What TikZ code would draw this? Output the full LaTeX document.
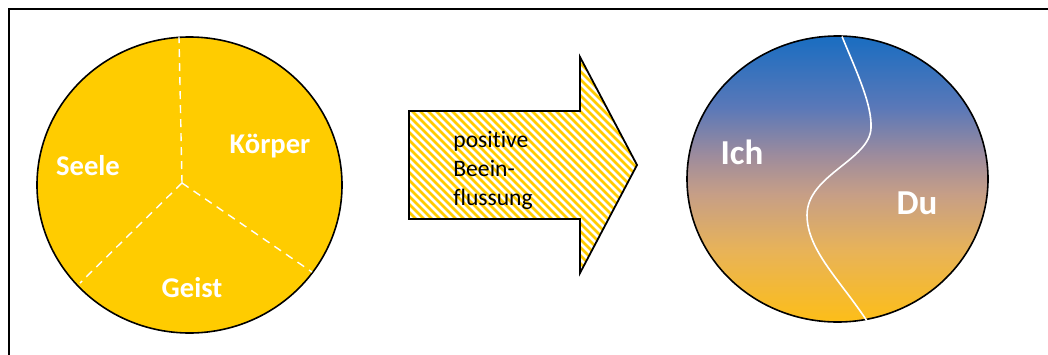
\documentclass[tikz,border=0pt]{standalone}
\usepackage{fontspec}
\setmainfont[Ligatures={NoCommon}]{Carlito}
\usetikzlibrary{shapes.geometric}
\definecolor{gold}{RGB}{255,204,0}
\pgfdeclareverticalshading{ichdu}{100bp}{
  rgb(0bp)=(0.992,0.745,0.094);
  rgb(25bp)=(0.992,0.745,0.094);
  rgb(37.5bp)=(0.910,0.702,0.345);
  rgb(47.5bp)=(0.776,0.620,0.529);
  rgb(54bp)=(0.620,0.549,0.612);
  rgb(62.5bp)=(0.353,0.471,0.722);
  rgb(75bp)=(0.098,0.427,0.757);
  rgb(100bp)=(0.098,0.427,0.757)}
\tikzset{
  frameline/.style={line width=1pt, black},
  pie/.style={ellipse, draw=black, line width=0.8pt, fill=gold, inner sep=0pt},
  divider/.style={white, line width=0.7pt, dash pattern=on 4pt off 3pt},
  bigtxt/.style={text=white, font=\bfseries\fontsize{14.3}{16}\selectfont, inner sep=0pt},
  hugetxt/.style={text=white, font=\bfseries\fontsize{17.5}{19}\selectfont, inner sep=0pt},
  arrowtxt/.style={font=\fontsize{11.8}{14.5}\selectfont, align=left, inner sep=0pt},
}
\begin{document}
\begin{tikzpicture}[x=0.5pt, y=-0.5pt]
\useasboundingbox (0,0) rectangle (1048,354);
% frame
\draw[frameline] (1060,9) -- (8.5,9) -- (8.5,370);

% left circle
\node[pie, minimum width=152.5pt, minimum height=148pt] (body) at (189.5,185) {};
\coordinate (ctr) at (182,183);
\coordinate (top) at (179,37);
\coordinate (ll) at (80,283);
\coordinate (lr) at (312,272);
\draw[divider] (ctr) -- (top);
\draw[divider] (ctr) -- (ll);
\draw[divider] (ctr) -- (lr);
\node[bigtxt] (seele) at (88,166) {Seele};
\node[bigtxt] (koerper) at (270,146) {Körper};
\node[bigtxt] (geist) at (192,288) {Geist};

% block arrow
\begin{scope}
  \clip (409,111) -- (580,111) -- (580,57) -- (637,165) -- (580,273) -- (580,219) -- (409,219) -- cycle;
  \fill[gold] (400,50) rectangle (645,280);
  \foreach \k in {-264,-256,...,264} {
    \draw[white, line width=1.4pt] (409+\k,40) -- (409+\k+250,290);
  }
\end{scope}
\draw[black, line width=0.9pt, line join=miter] (409,111) -- (580,111) -- (580,57) -- (637,165) -- (580,273) -- (580,219) -- (409,219) -- cycle;
\node[arrowtxt, anchor=west] (label) at (453,170) {positive\\Beein-\\flussung};

% right circle
\node[ellipse, draw=black, line width=0.8pt, shading=ichdu, minimum width=150.5pt, minimum height=143pt, inner sep=0pt] (pair) at (837.5,179) {};
\coordinate (ct) at (842,36.5);
\coordinate (cb) at (867,321);
\draw[white, line width=0.8pt] (ct) .. controls (858,75) and (872,105) .. (871,128)
  .. controls (870,160) and (807,175) .. (807,215)
  .. controls (807,250) and (840,280) .. (cb);
\node[hugetxt] (ich) at (742,152) {Ich};
\node[hugetxt] (du) at (917,203) {Du};
\end{tikzpicture}
\end{document}
